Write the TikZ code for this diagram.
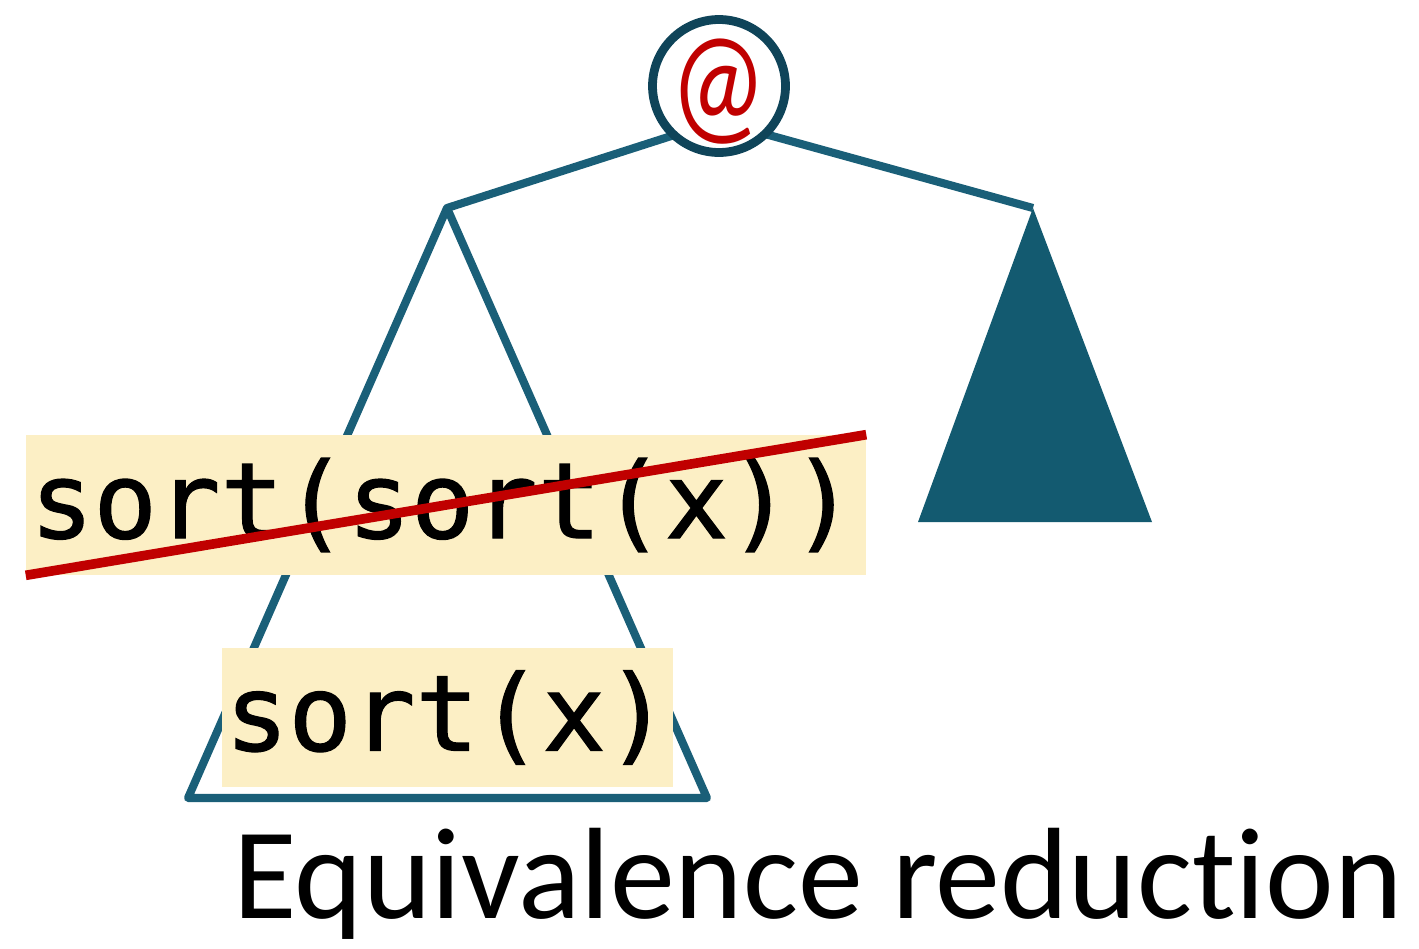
\documentclass[tikz,border=0pt]{standalone}
\usepackage{fontspec}
\usepackage{graphicx}
\setmainfont{Carlito}[Ligatures=NoCommon]
\setmonofont{DejaVu Sans Mono}[FakeBold=1.2]
\usetikzlibrary{positioning}

\definecolor{tealline}{HTML}{1A5F78}
\definecolor{tealdark}{HTML}{0F4459}
\definecolor{tealfill}{HTML}{135A70}
\definecolor{hlyellow}{HTML}{FCEFC5}
\definecolor{strikered}{HTML}{C00000}

\begin{document}
\begin{tikzpicture}[
  x=0.02cm, y=-0.02cm,
  edge/.style={draw=tealline, line width=4.6pt, line join=round},
  rootnode/.style={circle, draw=tealdark, line width=5pt, fill=white,
                   minimum size=2.66cm, inner sep=0pt, text=strikered,
                   font=\fontsize{68}{68}\selectfont},
  hl/.style={fill=hlyellow, inner ysep=0pt, align=left,
             font=\ttfamily\fontsize{60}{60}\selectfont},
  strike/.style={draw=strikered, line width=5.5pt},
  caption/.style={font=\fontsize{74}{74}\selectfont, inner sep=0pt}]

\useasboundingbox (0,0) rectangle (1419,948);

% ---- tree skeleton ----
\coordinate (lapex) at (447,208);
\coordinate (lbl) at (188,798);
\coordinate (lbr) at (707,798);
\coordinate (rapex) at (1033,208);
\coordinate (rbl) at (918,522);
\coordinate (rbr) at (1152,522);
\coordinate (join) at (718,121);

\draw[edge] (lapex) -- (lbl) -- (lbr) -- cycle;
\fill[tealfill] (rapex) -- (rbl) -- (rbr) -- cycle;

\draw[edge] (join) -- (lapex);
\draw[edge] (join) -- (rapex);
\node[rootnode] (root) at (719,86)
  {\raisebox{-0.75ex}[0pt][0pt]{\makebox[0pt]{\scalebox{0.9}[1.17]{@}}}};

% ---- highlighted terms ----
\node[hl, text width=16.64cm, inner xsep=0.08cm, minimum height=2.8cm] (sortsort) at (446,505) {sort(sort(x))};
\draw[strike] (sortsort.south west) -- (sortsort.north east);

\node[hl, text width=8.9cm, inner xsep=0.06cm, minimum height=2.78cm] (sortx) at (447.5,717.5) {sort(x)};

% ---- caption ----
\node[caption, anchor=base west] (label) at (233,918) {Equivalence reduction};
\end{tikzpicture}
\end{document}
